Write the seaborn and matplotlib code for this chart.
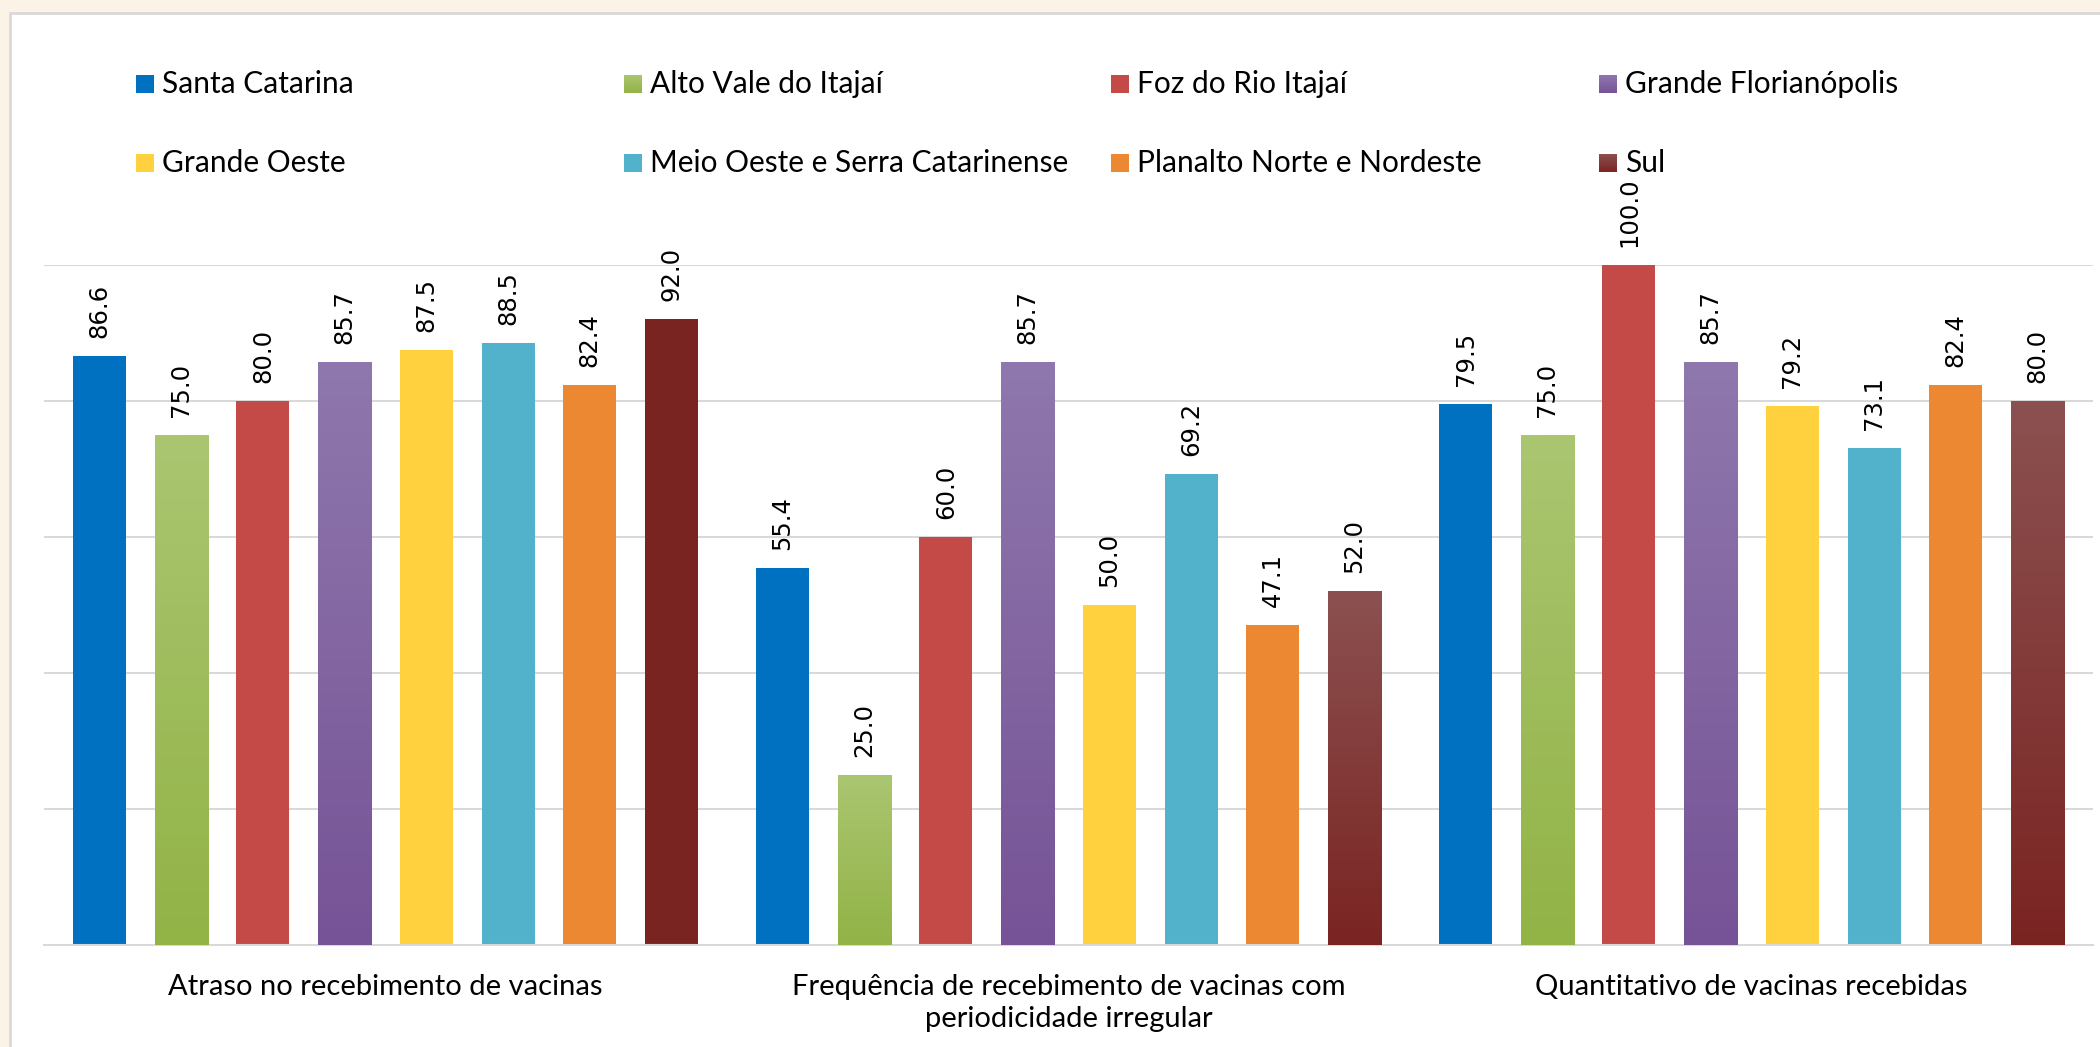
import numpy as np
import pandas as pd
import matplotlib
matplotlib.use('Agg')
import matplotlib.pyplot as plt
from matplotlib.patches import Rectangle
from matplotlib import font_manager
import seaborn as sns

categories = ['Atraso no recebimento de vacinas',
              'Frequência de recebimento de vacinas com\nperiodicidade irregular',
              'Quantitativo de vacinas recebidas']
regions = ['Santa Catarina', 'Alto Vale do Itajaí', 'Foz do Rio Itajaí', 'Grande Florianópolis',
           'Grande Oeste', 'Meio Oeste e Serra Catarinense', 'Planalto Norte e Nordeste', 'Sul']
santa_catarina = [86.6, 55.4, 79.5]
alto_vale = [75.0, 25.0, 75.0]
foz_rio = [80.0, 60.0, 100.0]
grande_floripa = [85.7, 85.7, 85.7]
grande_oeste = [87.5, 50.0, 79.2]
meio_oeste = [88.5, 69.2, 73.1]
planalto = [82.4, 47.1, 82.4]
sul = [92.0, 52.0, 80.0]

series = [santa_catarina, alto_vale, foz_rio, grande_floripa,
          grande_oeste, meio_oeste, planalto, sul]
colors = ['#0070c0', '#92b346', '#c44a48', '#765396',
          '#ffd13e', '#52b2cc', '#eb8831', '#7a2422']
# light top colour for bars drawn with a vertical gradient (None = flat)
grad_top = [None, '#aac671', None, '#8f78ad', None, None, None, '#8b5150']
grad_groups = [[0, 1, 2], [0, 1, 2], [], [0, 1, 2], [], [], [], [1, 2]]

rows = []
for reg, vals in zip(regions, series):
    for cat, v in zip(categories, vals):
        rows.append({'Categoria': cat, 'Região': reg, 'Valor': v})
df = pd.DataFrame(rows)

sns.set_style('white')
plt.rcParams['font.family'] = ['Lato', 'DejaVu Sans']

# narrow font for the value labels if there is one
try:
    font_manager.findfont('Liberation Sans Narrow', fallback_to_default=False)
    lab_font, lab_size = 'Liberation Sans Narrow', 23
except ValueError:
    lab_font, lab_size = 'DejaVu Sans', 17.5

W, H = 2100, 1047
fig = plt.figure(figsize=(W / 100, H / 100), dpi=100)
fig.patch.set_facecolor('#fbf3e6')

# overlay in pixel coords for the chart frame and legend
lax = fig.add_axes([0, 0, 1, 1], zorder=0)
lax.set_xlim(0, W)
lax.set_ylim(H, 0)
lax.axis('off')
lax.add_patch(Rectangle((10, 13), W, H, facecolor='white', edgecolor='#d9d9d9', lw=2))


def vgrad(ax, x0, x1, y0, y1, top, bottom, clip=None):
    c_top = np.array(matplotlib.colors.to_rgb(top))
    c_bot = np.array(matplotlib.colors.to_rgb(bottom))
    t = np.linspace(0, 1, 256)[:, None]
    img = (c_top * (1 - t) + c_bot * t)[:, None, :]
    im = ax.imshow(img, extent=[x0, x1, y0, y1], aspect='auto', origin='upper',
                   interpolation='bilinear', zorder=3)
    if clip is not None:
        im.set_clip_path(clip)
    return im


ax = fig.add_axes([44 / W, 1 - 945 / H, (2093 - 44) / W, (945 - 265) / H], zorder=1)
ax.set_facecolor('none')
sns.barplot(data=df, x='Categoria', y='Valor', hue='Região', order=categories,
            hue_order=regions, palette=colors, width=0.957, gap=0.35,
            saturation=1, legend=False, ax=ax, zorder=2, linewidth=0)

for i, cont in enumerate(ax.containers):
    for j, bar in enumerate(cont):
        if grad_top[i] is not None and j in grad_groups[i]:
            x0 = bar.get_x()
            x1 = x0 + bar.get_width()
            vgrad(ax, x0, x1, 0, bar.get_height(), grad_top[i], colors[i], clip=bar)
    ax.bar_label(cont, fmt='%.1f', rotation=90, padding=13, fontsize=lab_size,
                 family=lab_font, color='black', clip_on=False)

ax.set_xlim(-0.5, 2.5)
ax.set_ylim(0, 100)
ax.set_yticks([20, 40, 60, 80, 100])
ax.set_yticklabels([])
ax.yaxis.grid(True, color='#d9d9d9', lw=1.5)
ax.set_axisbelow(True)
for s in ['top', 'left', 'right']:
    ax.spines[s].set_visible(False)
ax.spines['bottom'].set_color('#d9d9d9')
ax.spines['bottom'].set_linewidth(1.5)
ax.set_xlabel('')
ax.set_ylabel('')
ax.set_xticks([0, 1, 2])
ax.set_xticklabels(categories, fontsize=21, linespacing=1.3)
ax.set_xticks([-0.5, 0.5, 1.5, 2.5], minor=True)
ax.tick_params(axis='x', which='major', length=0, pad=21, colors='black')
ax.tick_params(axis='x', which='minor', length=9, width=1.5, color='#d9d9d9')
ax.tick_params(axis='y', length=0)

# legend, 4 equal columns x 2 rows
col_x = [136, 624, 1111, 1599]
row_y = [84, 163]
sw = 18
for k, reg in enumerate(regions):
    x = col_x[k % 4]
    y = row_y[k // 4]
    lax.add_patch(Rectangle((x, y - sw / 2), sw, sw, facecolor=colors[k], lw=0, zorder=2))
    if grad_top[k] is not None:
        vgrad(lax, x, x + sw, y + sw / 2, y - sw / 2, grad_top[k], colors[k])
    lax.text(x + 26, y, reg, fontsize=21.5, va='center', ha='left', color='black')

fig.savefig('out.png', dpi=100, facecolor=fig.get_facecolor())
